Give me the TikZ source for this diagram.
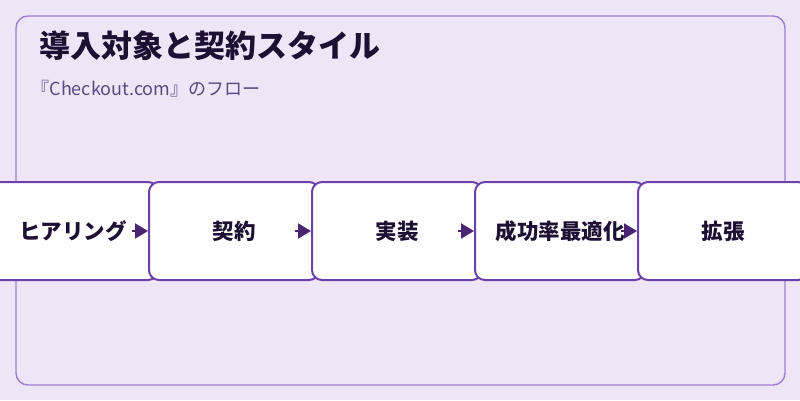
\documentclass[tikz,border=0pt]{standalone}
\usepackage{fontspec}
\setmainfont{Noto Sans CJK JP}
\usetikzlibrary{positioning, arrows.meta}
\definecolor{bgcol}{HTML}{EEE6F6}
\definecolor{framecol}{HTML}{9D7FD2}
\definecolor{boxcol}{HTML}{6B40A8}
\definecolor{arrcol}{HTML}{4A2470}
\definecolor{textcol}{HTML}{1E1033}
\definecolor{subcol}{HTML}{5A4A80}
\tikzset{
  stepbox/.style={draw=boxcol, line width=2pt, fill=white, rounded corners=10pt,
    minimum width=170pt, minimum height=98pt, inner sep=0pt,
    font=\bfseries\fontsize{21.5}{25}\selectfont, text=textcol},
  flowarrow/.style={draw=arrcol, line width=2pt, -{Triangle[length=13pt,width=15pt]}}
}
\begin{document}
\begin{tikzpicture}[x=1pt, y=-1pt]
    % background
    \fill [bgcol] (0,0) rectangle (800,400);
    \useasboundingbox (0,0) rectangle (800,400);
    \draw [framecol, line width=1.4pt, rounded corners=12pt] (16,16) rectangle (785,385);
    % titles
    \node [anchor=west, text=textcol, font=\bfseries\fontsize{31}{36}\selectfont] (title) at (36,46) {導入対象と契約スタイル};
    \node [anchor=west, text=subcol, font=\fontsize{18}{22}\selectfont] (subtitle) at (28,89) {『Checkout.com』のフロー};

    % steps
    \node [stepbox] (hearing) at (73,231) {ヒアリング};
    \node [stepbox] (contract) at (234,231) {契約};
    \node [stepbox] (build) at (397,231) {実装};
    \node [stepbox] (optimize) at (560,231) {成功率最適化};
    \node [stepbox] (expand) at (723,231) {拡張};

    % arrows
    \foreach \a in {contract, build, optimize, expand}
        \draw [flowarrow] ([xshift=-16pt]\a.west) -- (\a.west);
  \end{tikzpicture}
\end{document}
